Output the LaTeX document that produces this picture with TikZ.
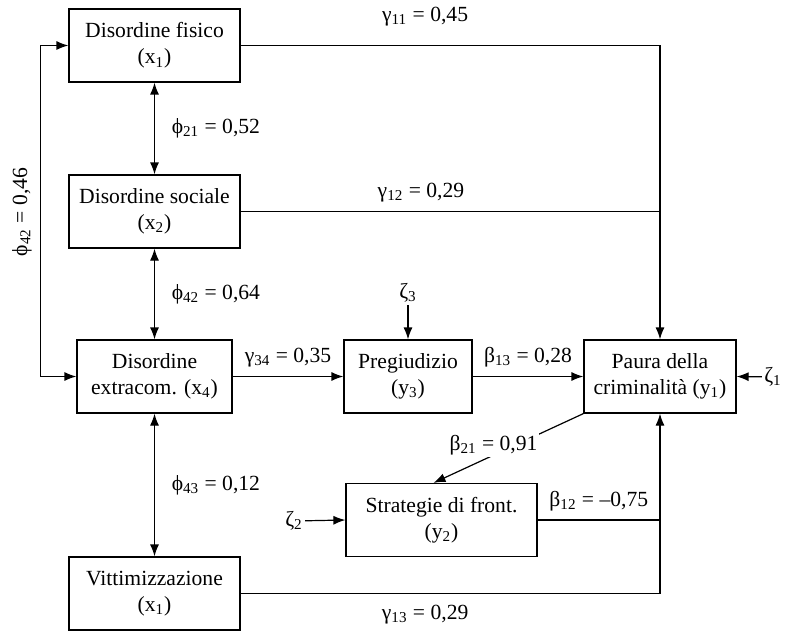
\documentclass[tikz,border=0pt]{standalone}
\usepackage{fontspec}
\setmainfont{Liberation Serif}
\usetikzlibrary{arrows.meta,positioning,shapes}

\begin{document}
\begin{tikzpicture}[x=0.5pt,y=-0.5pt,font=\fontsize{10.8}{13}\selectfont]
			\tikzstyle{block} = [rectangle, draw, line width=0.6pt, align=center, minimum height=36.5pt, inner sep=0pt]
			\tikzstyle{entry} = [draw=none, inner sep=1pt]
			\tikzstyle{arrow} = [draw, line width=0.6pt, -{Latex[length=6pt,width=4.5pt]}]
			\tikzstyle{darrow} = [draw, line width=0.6pt, {Latex[length=6pt,width=4.5pt]}-{Latex[length=6pt,width=4.5pt]}]
			\tikzstyle{line} = [draw, line width=0.6pt]

			\useasboundingbox (0,0) rectangle (787,631);

			% variabili esogene
			\node [block, minimum width=85.5pt] (x1) at (154.5,45.5) {Disordine fisico\\(x\textsubscript{1})};
			\node [block, minimum width=85.5pt] (x2) at (154.5,211.5) {Disordine sociale\\(x\textsubscript{2})};
			\node [block, minimum width=77.5pt] (x4) at (154.5,376.5) {Disordine\\extracom. (x\textsubscript{4})};
			\node [block, minimum width=85.5pt] (vit) at (154.5,593.5) {Vittimizzazione\\(x\textsubscript{1})};

			% variabili endogene
			\node [block, minimum width=64pt] (y3) at (408,376.5) {Pregiudizio\\(y\textsubscript{3})};
			\node [block, minimum width=76pt] (y1) at (660,376.5) {Paura della\\criminalità (y\textsubscript{1})};
			\node [block, minimum width=95.5pt] (y2) at (441.5,520) {Strategie di front.\\(y\textsubscript{2})};

			% errori
			\node [entry] (z3) at (408,293) {ζ\textsubscript{3}};
			\node [entry] (z1) at (773,377) {ζ\textsubscript{1}};
			\node [entry] (z2) at (294,521) {ζ\textsubscript{2}};

			\path[arrow] (z3) -- (y3.north);
			\path[arrow] (z1) -- (y1.east);
			\path[arrow] (z2) -- (y2.west);

			% correlazioni
			\path[darrow] (x1.south) -- (x2.north) node[midway, right=5pt] {ϕ\textsubscript{21} = 0,52};
			\path[darrow] (x2.south) -- (x4.north) node[midway, right=5pt] {ϕ\textsubscript{42} = 0,64};
			\path[darrow] (x4.south) -- (vit.north) node[midway, right=5pt] {ϕ\textsubscript{43} = 0,12};
			\path[darrow] (x1.west) -- ++(-28,0) |- (x4.west);
			\node [rotate=90] (phi46) at (22,212) {ϕ\textsubscript{42} = 0,46};

			% effetti
			\path[arrow] (x1.east) -| (y1.north) node[pos=0.22, above=6pt] {γ\textsubscript{11} = 0,45};
			\path[line] (x2.east) -- (x2.east -| y1.north) node[pos=0.43, above=1pt] {γ\textsubscript{12} = 0,29};
			\path[arrow] (x4.east) -- (y3.west) node[midway, above=1pt] {γ\textsubscript{34} = 0,35};
			\path[arrow] (y3.west -| y3.east) -- (y1.west) node[midway, above=1pt] {β\textsubscript{13} = 0,28};
			\path[arrow] (y1.south west) -- ([xshift=-4pt]y2.north) node[pos=0.6, yshift=5pt, fill=white, inner sep=1pt] {β\textsubscript{21} = 0,91};
			\path[line] (y2.east) -- (y2.east -| y1.south) node[midway, above=1pt] {β\textsubscript{12} = –0,75};
			\path[arrow] (vit.east) -| (y1.south) node[pos=0.22, below=2pt] {γ\textsubscript{13} = 0,29};
		\end{tikzpicture}
\end{document}
